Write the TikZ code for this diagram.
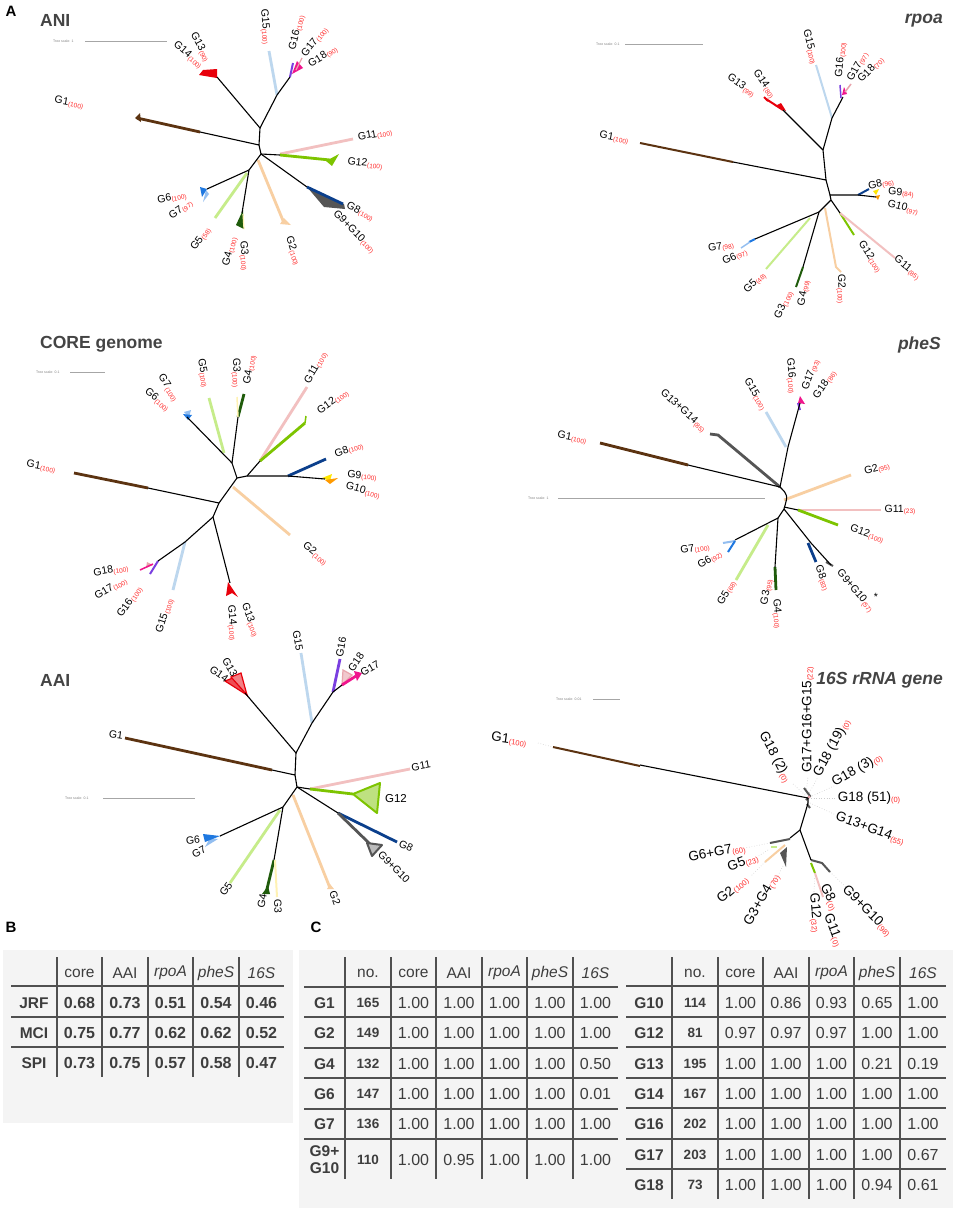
\documentclass[tikz,border=0pt]{standalone}
\usepackage{fontspec}
\setmainfont{Liberation Sans}
\definecolor{c1}{HTML}{5C3311}
\definecolor{c2}{HTML}{F8CFA2}
\definecolor{c3}{HTML}{FFF2B3}
\definecolor{c4}{HTML}{1F5B0B}
\definecolor{c5}{HTML}{C6EC8A}
\definecolor{c6}{HTML}{1F78E0}
\definecolor{c7}{HTML}{93BEF0}
\definecolor{c8}{HTML}{0B3F8C}
\definecolor{c9}{HTML}{555555}
\definecolor{c9y}{HTML}{FFE600}
\definecolor{c10}{HTML}{FF9A00}
\definecolor{c11}{HTML}{F2C0C0}
\definecolor{c12}{HTML}{7DC400}
\definecolor{c13}{HTML}{E8000B}
\definecolor{c15}{HTML}{BDD7EE}
\definecolor{c16}{HTML}{7A3FE0}
\definecolor{c17}{HTML}{F0158C}
\definecolor{c18}{HTML}{E8A4AC}
\definecolor{supred}{HTML}{FF2A2A}
\definecolor{ttlgray}{HTML}{444444}
\definecolor{tbg}{HTML}{F4F4F4}
\definecolor{tline}{HTML}{505050}
\definecolor{ttext}{HTML}{3D3D3D}
\newcommand\sv[1]{\textcolor{supred}{\fontsize{6.5}{6.5}\selectfont\raisebox{-0.35ex}{(#1)}}}
\newcommand\svL[1]{\textcolor{supred}{\fontsize{7.5}{7.5}\selectfont\raisebox{-0.35ex}{(#1)}}}
\tikzset{
 br/.style={line width=1.1pt, black, line join=round},
 clw/.style={line width=2.8pt},
 cmw/.style={line width=2pt},
 tlab/.style={font=\fontsize{10.5}{10.5}\selectfont, inner sep=0pt},
 tlabL/.style={font=\fontsize{13.5}{13.5}\selectfont, inner sep=0pt},
 ttl/.style={font=\fontsize{17.5}{17.5}\selectfont\bfseries, text=ttlgray, inner sep=0pt},
 panel/.style={font=\fontsize{15}{15}\selectfont\bfseries, inner sep=0pt},
 scl/.style={font=\fontsize{3.5}{3.5}\selectfont, text=gray, inner sep=0pt, anchor=west},
 sbar/.style={gray!70, line width=0.6pt},
 dotl/.style={gray!40, line width=0.6pt, dotted},
 hdr/.style={font=\fontsize{15.5}{15.5}\selectfont, text=ttext, inner sep=0pt},
 rlab/.style={font=\fontsize{15.5}{17}\selectfont\bfseries, text=ttext, inner sep=0pt, align=center},
 ncol/.style={font=\fontsize{13.5}{13.5}\selectfont\bfseries, text=ttext, inner sep=0pt},
 vcol/.style={font=\fontsize{16}{16}\selectfont, text=ttext, inner sep=0pt},
 vbold/.style={font=\fontsize{16}{16}\selectfont\bfseries, text=ttext, inner sep=0pt},
 tgrid/.style={tline, line width=1.3pt},
}
\newcommand\rowL[9]{%
 \node[rlab] (#1-l) at (324.5,#2) {#3};
 \node[ncol] (#1-n) at (368,#2) {#4};
 \node[vcol] (#1-a) at (413.5,#2) {#5};
 \node[vcol] (#1-b) at (459,#2) {#6};
 \node[vcol] (#1-c) at (504.5,#2) {#7};
 \node[vcol] (#1-d) at (550,#2) {#8};
 \node[vcol] (#1-e) at (595.5,#2) {#9};
}
\newcommand\rowR[9]{%
 \node[rlab] (#1-l) at (649,#2) {#3};
 \node[ncol] (#1-n) at (695,#2) {#4};
 \node[vcol] (#1-a) at (740.5,#2) {#5};
 \node[vcol] (#1-b) at (786,#2) {#6};
 \node[vcol] (#1-c) at (831.5,#2) {#7};
 \node[vcol] (#1-d) at (877,#2) {#8};
 \node[vcol] (#1-e) at (923,#2) {#9};
}
\begin{document}
\begin{tikzpicture}[x=1pt,y=-1pt]
\useasboundingbox (0,0) rectangle (957,1210);
\fill[white] (0,0) rectangle (957,1210);

% ---------- panel letters and titles
\node[panel] (pA) at (11,11) {A};
\node[panel] (pB) at (11,927) {B};
\node[panel] (pC) at (316,927) {C};
\node[ttl,anchor=west] (tANI) at (40,20) {ANI};
\node[ttl,anchor=east] (tRPO) at (943,21) {\itshape rpoa};
\node[ttl,anchor=west] (tCORE) at (40,344) {CORE genome};
\node[ttl,anchor=east] (tPHE) at (941,345) {\itshape pheS};
\node[ttl,anchor=west] (tAAI) at (40,680) {AAI};
\node[ttl,anchor=east] (t16S) at (943,680) {\itshape 16S rRNA gene};

% ---------- tree scales
\node[scl] (sANI) at (53,41) {Tree scale: 1};
\draw[sbar] (85,41) -- (167,41);
\node[scl] (sRPO) at (596,44) {Tree scale: 0.1};
\draw[sbar] (625,44) -- (703,44);
\node[scl] (sCORE) at (36,372) {Tree scale: 0.1};
\draw[sbar] (70,372) -- (105,372);
\node[scl] (sPHE) at (528,498) {Tree scale: 1};
\draw[sbar] (558,498) -- (765,498);
\node[scl] (sAAI) at (65,798) {Tree scale: 0.1};
\draw[sbar] (103,798) -- (195,798);
\node[scl] (s16S) at (556,699) {Tree scale: 0.01};
\draw[sbar] (593,699) -- (620,699);

% =================== ANI
\draw[clw,c1] (200,132) -- (137,118);
\fill[c1] (135,118) -- (140,113) -- (141,122) -- cycle;
\fill[c13] (217,78) -- (199,75) -- (203,70) -- (217,69) -- cycle;
\draw[clw,c15] (277,95) -- (269,51);
\draw[cmw,c16] (290,77) -- (293,63);
\fill[c17] (292,74) -- (297,61) -- (303,68) -- cycle;
\draw[line width=1.3pt,c18] (296,70) -- (302,58);
\draw[clw,c11] (280,154) -- (353,139);
\draw[clw,c12] (280,155) -- (330,160);
\fill[c12] (326,161) -- (339,154) -- (332,166) -- cycle;
\fill[c9] (307,187) -- (324,207) -- (345,209) -- (344,204) -- cycle;
\draw[clw,c8] (307,187) -- (343,204);
\draw[clw,c2] (258,160) -- (284,223);
\fill[c2] (280,224) -- (291,225) -- (284,218) -- cycle;
\fill[c4] (243,210) -- (236,225) -- (244,229) -- cycle;
\draw[line width=1.2pt,c3] (243,214) -- (244,229);
\draw[clw,c5] (247,173) -- (215,218);
\fill[c7] (206,190) -- (203,202) -- (209,194) -- cycle;
\fill[c6] (207,189) -- (200,187) -- (202,197) -- cycle;
\draw[br] (217,77) -- (260,128) -- (259,145) -- (200,132);
\draw[br] (260,128) -- (277,95) -- (290,77);
\draw[br] (259,145) -- (261,154) -- (280,155);
\draw[br] (261,154) -- (307,187);
\draw[br] (261,154) -- (249,170) -- (242,213);
\draw[br] (249,170) -- (207,189);
\node[tlab,rotate=-62] (aG13) at (200,47) {G13\sv{90}};
\node[tlab,rotate=-41] (aG14) at (188,55) {G14\sv{100}};
\node[tlab,rotate=-10] (aG1) at (69,103) {G1\sv{100}};
\node[tlab,rotate=-85] (aG15) at (265,27) {G15\sv{100}};
\node[tlab,rotate=76] (aG16) at (297,33) {G16\sv{100}};
\node[tlab,rotate=51] (aG17) at (315,42) {G17\sv{100}};
\node[tlab,rotate=32] (aG18) at (323,57) {G18\sv{90}};
\node[tlab,rotate=10] (aG11) at (375,135) {G11\sv{100}};
\node[tlab,rotate=-7] (aG12) at (365,164) {G12\sv{100}};
\node[tlab,rotate=-27] (aG8) at (360,212) {G8\sv{100}};
\node[tlab,rotate=-45] (aG910) at (354,232) {G9+G10\sv{100}};
\node[tlab,rotate=-72] (aG2) at (293,251) {G2\sv{100}};
\node[tlab,rotate=-85] (aG3) at (244,256) {G3\sv{100}};
\node[tlab,rotate=75] (aG4) at (230,252) {G4\sv{100}};
\node[tlab,rotate=54] (aG5) at (201,239) {G5\sv{58}};
\node[tlab,rotate=11] (aG6) at (172,198) {G6\sv{100}};
\node[tlab,rotate=35] (aG7) at (181,210) {G7\sv{97}};

% =================== rpoa
\draw[cmw,c1] (733,162) -- (640,143);
\draw[cmw,c13] (783,110) -- (766,99);
\fill[c13] (786,111) -- (781,103) -- (775,106) -- cycle;
\draw[cmw,c13] (764,97) -- (768,101);
\draw[cmw,c15] (832,118) -- (816,65);
\draw[line width=1.5pt,c16] (840,85) -- (841,98);
\fill[c17] (844,87) -- (847,94) -- (842,95) -- cycle;
\draw[line width=1.5pt,c18] (845,92) -- (851,84);
\draw[cmw,c8] (858,195) -- (869,189);
\fill[c9y] (873,191) -- (879,189) -- (876,195) -- cycle;
\fill[c10] (875,196) -- (880,195) -- (878,200) -- cycle;
\draw[cmw,c12] (840,213) -- (854,235);
\draw[cmw,c11] (840,213) -- (895,258);
\draw[cmw,c2] (825,208) -- (836,267) -- (841,272);
\draw[cmw,c4] (803,267) -- (796,287);
\draw[cmw,c5] (810,218) -- (766,269);
\draw[cmw,c6] (755,239) -- (749,242);
\draw[line width=1.5pt,c7] (750,242) -- (741,248);
\draw[br] (783,110) -- (823,150) -- (826,180) -- (733,162);
\draw[br] (823,150) -- (832,118) -- (843,97);
\draw[br] (826,180) -- (830,195) -- (858,195) -- (876,197);
\draw[br] (830,195) -- (831,200) -- (840,213);
\draw[br] (831,200) -- (819,212) -- (803,267);
\draw[br] (819,212) -- (755,239);
\node[tlab,rotate=-10] (rG1) at (614,138) {G1\sv{100}};
\node[tlab,rotate=-35] (rG13) at (741,86) {G13\sv{99}};
\node[tlab,rotate=-56] (rG14) at (764,84) {G14\sv{80}};
\node[tlab,rotate=-76] (rG15) at (810,47) {G15\sv{100}};
\node[tlab,rotate=85] (rG16) at (841,60) {G16\sv{100}};
\node[tlab,rotate=61] (rG17) at (858,67) {G17\sv{97}};
\node[tlab,rotate=45] (rG18) at (871,70) {G18\sv{70}};
\node[tlab,rotate=12] (rG8) at (881,184) {G8\sv{96}};
\node[tlab,rotate=-3] (rG9) at (901,193) {G9\sv{84}};
\node[tlab,rotate=-15] (rG10) at (903,208) {G10\sv{97}};
\node[tlab,rotate=-57] (rG12) at (870,257) {G12\sv{100}};
\node[tlab,rotate=-40] (rG11) at (907,268) {G11\sv{85}};
\node[tlab,rotate=-88] (rG2) at (841,289) {G2\sv{100}};
\node[tlab,rotate=64] (rG3) at (784,305) {G3\sv{100}};
\node[tlab,rotate=80] (rG4) at (804,293) {G4\sv{99}};
\node[tlab,rotate=45] (rG5) at (755,283) {G5\sv{48}};
\node[tlab,rotate=10] (rG7) at (721,247) {G7\sv{98}};
\node[tlab,rotate=25] (rG6) at (735,257) {G6\sv{97}};

% =================== CORE genome
\draw[clw,c1] (148,488) -- (74,473);
\fill[c7] (184,412) -- (191,410) -- (189,417) -- cycle;
\fill[c6] (183,414) -- (192,415) -- (188,420) -- cycle;
\draw[clw,c5] (224,453) -- (209,398);
\draw[clw,c4] (238,417) -- (244,394);
\draw[line width=1.5pt,c3] (237,397) -- (238,417);
\draw[clw,c11] (260,461) -- (307,387);
\draw[clw,c12] (260,461) -- (305,423);
\draw[line width=1.5pt,c12] (305,423) -- (306,416);
\draw[clw,c8] (288,476) -- (326,459);
\fill[c9y] (322,478) -- (332,474) -- (330,481) -- cycle;
\fill[c10] (325,480) -- (338,478) -- (330,484) -- cycle;
\draw[clw,c2] (233,487) -- (290,535);
\fill[c13] (228,582) -- (238,597) -- (232,593) -- (226,596) -- cycle;
\draw[clw,c15] (185,542) -- (173,590);
\draw[cmw,c16] (158,561) -- (150,574);
\fill[c18] (147,562) -- (153,565) -- (146,568) -- cycle;
\draw[line width=1.5pt,c17] (153,564) -- (140,570);
\draw[br] (232,463) -- (237,478) -- (219,503) -- (213,517);
\draw[br] (219,503) -- (148,488);
\draw[br] (237,478) -- (247,476) -- (260,461);
\draw[br] (247,476) -- (288,476) -- (325,479);
\draw[br] (232,463) -- (187,417);
\draw[br] (232,463) -- (238,417);
\draw[br] (213,517) -- (230,583);
\draw[br] (213,517) -- (185,542) -- (158,561);
\node[tlab,rotate=-58] (cG7) at (168,388) {G7\sv{100}};
\node[tlab,rotate=-40] (cG6) at (157,400) {G6\sv{100}};
\node[tlab,rotate=-80] (cG5) at (203,373) {G5\sv{100}};
\node[tlab,rotate=-88] (cG3) at (236,373) {G3\sv{100}};
\node[tlab,rotate=80] (cG4) at (250,370) {G4\sv{100}};
\node[tlab,rotate=60] (cG11) at (316,368) {G11\sv{100}};
\node[tlab,rotate=35] (cG12) at (333,402) {G12\sv{100}};
\node[tlab,rotate=20] (cG8) at (349,450) {G8\sv{100}};
\node[tlab,rotate=-3] (cG9) at (362,476) {G9\sv{100}};
\node[tlab,rotate=-15] (cG10) at (363,491) {G10\sv{100}};
\node[tlab,rotate=-40] (cG2) at (315,554) {G2\sv{100}};
\node[tlab,rotate=10] (cG18) at (111,571) {G18\sv{100}};
\node[tlab,rotate=30] (cG17) at (111,589) {G17\sv{100}};
\node[tlab,rotate=55] (cG16) at (130,602) {G16\sv{100}};
\node[tlab,rotate=72] (cG15) at (165,616) {G15\sv{100}};
\node[tlab,rotate=-70] (cG13) at (250,620) {G13\sv{100}};
\node[tlab,rotate=-85] (cG14) at (232,623) {G14\sv{100}};
\node[tlab,rotate=-10] (cG1) at (41,467) {G1\sv{100}};

% =================== pheS
\draw[clw,c9] (780,487) -- (718,435) -- (710,434);
\draw[clw,c1] (688,465) -- (600,443);
\draw[clw,c15] (786,447) -- (766,412);
\draw[cmw,c16] (798,403) -- (800,410);
\fill[c17] (800,396) -- (805,404) -- (798,403) -- cycle;
\draw[clw,c2] (784,500) -- (851,475);
\draw[clw,c11] (798,510) -- (881,510);
\draw[clw,c12] (798,510) -- (838,525);
\draw[clw,c8] (808,543) -- (816,562);
\draw[cmw,c9] (826,562) -- (833,566);
\draw[clw,c4] (775,567) -- (776,590);
\draw[clw,c5] (768,525) -- (736,580);
\draw[cmw,c7] (723,543) -- (735,541);
\draw[cmw,c6] (735,541) -- (728,552);
\draw[br] (780,487) -- (688,465);
\draw[br] (780,487) -- (788,447) -- (800,403);
\draw[br] (780,487) .. controls (788,495) .. (784,509);
\draw[br] (784,507) -- (798,510);
\draw[br] (784,509) -- (811,543) -- (831,565);
\draw[br] (784,509) -- (778,518) -- (775,567);
\draw[br] (778,518) -- (735,540);
\node[tlab,rotate=-85] (pG16) at (791,376) {G16\sv{100}};
\node[tlab,rotate=70] (pG17) at (811,375) {G17\sv{93}};
\node[tlab,rotate=55] (pG18) at (825,385) {G18\sv{86}};
\node[tlab,rotate=-60] (pG15) at (755,394) {G15\sv{100}};
\node[tlab,rotate=-42] (pG1314) at (683,411) {G13+G14\sv{85}};
\node[tlab,rotate=-10] (pG1) at (572,438) {G1\sv{100}};
\node[tlab,rotate=15] (pG2) at (877,469) {G2\sv{95}};
\node[tlab] (pG11) at (900,510) {G11\sv{23}};
\node[tlab,rotate=-20] (pG12) at (867,534) {G12\sv{100}};
\node[tlab,rotate=-50] (pG910) at (855,591) {G9+G10\sv{57}};
\node[tlab] (pAst) at (876,597) {*};
\node[tlab,rotate=-70] (pG8) at (822,578) {G8\sv{83}};
\node[tlab,rotate=-85] (pG4) at (777,614) {G4\sv{100}};
\node[tlab,rotate=80] (pG3) at (767,592) {G3\sv{95}};
\node[tlab,rotate=60] (pG5) at (727,593) {G5\sv{68}};
\node[tlab,rotate=30] (pG6) at (710,560) {G6\sv{92}};
\node[tlab,rotate=10] (pG7) at (695,549) {G7\sv{100}};

% =================== AAI
\draw[clw,c1] (125,738) -- (272,770);
\filldraw[c13, fill=c13!70, line width=1.2pt] (247,695) -- (225,681) -- (238,676) -- cycle;
\filldraw[c13, fill=c13!50, line width=1.2pt] (247,695) -- (231,677) -- (241,673) -- cycle;
\draw[clw,c15] (312,723) -- (301,653);
\draw[clw,c16] (333,692) -- (340,659);
\filldraw[c18, fill=c18!60, line width=1.2pt] (342,685) -- (343,670) -- (352,675) -- cycle;
\draw[clw,c17] (342,685) -- (356,676);
\fill[c17] (354,671) -- (362,673) -- (357,681) -- cycle;
\draw[clw,c11] (310,789) -- (410,769);
\draw[clw,c12] (310,789) -- (353,794);
\filldraw[c12, fill=c12!50, line width=2pt, line join=round] (353,794) -- (380,783) -- (377,813) -- cycle;
\draw[clw,c8] (338,813) -- (397,842);
\draw[clw,c9] (338,813) -- (370,844);
\filldraw[c9, fill=c9!40, line width=2pt, line join=round] (367,843) -- (382,845) -- (372,856) -- cycle;
\draw[clw,c2] (293,795) -- (330,888);
\fill[c2] (327,889) -- (334,889) -- (330,884) -- cycle;
\draw[clw,c4] (274,860) -- (266,893);
\fill[c4] (262,894) -- (270,894) -- (268,886) -- cycle;
\draw[cmw,c3] (275,860) -- (277,897);
\draw[clw,c5] (280,810) -- (230,883);
\fill[c7] (218,839) -- (205,847) -- (210,838) -- cycle;
\fill[c6] (220,836) -- (203,834) -- (205,842) -- cycle;
\draw[br] (245,693) -- (296,753) -- (312,723) -- (333,692);
\draw[br] (296,753) -- (295,775) -- (272,770);
\draw[br] (295,775) -- (297,787) -- (310,789);
\draw[br] (297,787) -- (338,813);
\draw[br] (297,787) -- (283,807) -- (274,860);
\draw[br] (283,807) -- (220,836);
\draw[br] (333,692) -- (342,685);
\node[tlab,rotate=-80] (iG15) at (298,641) {G15};
\node[tlab,rotate=80] (iG16) at (341,647) {G16};
\node[tlab,rotate=55] (iG18) at (356,662) {G18};
\node[tlab,rotate=30] (iG17) at (370,668) {G17};
\node[tlab,rotate=-60] (iG13) at (230,667) {G13};
\node[tlab,rotate=-35] (iG14) at (219,674) {G14};
\node[tlab,rotate=-8] (iG1) at (116,735) {G1};
\node[tlab,rotate=10] (iG11) at (421,766) {G11};
\node[tlab,font=\fontsize{11.5}{11.5}\selectfont] (iG12) at (396,799) {G12};
\node[tlab,rotate=-25] (iG8) at (406,846) {G8};
\node[tlab,rotate=-45] (iG910) at (394,867) {G9+G10};
\node[tlab,rotate=-70] (iG2) at (335,898) {G2};
\node[tlab,rotate=80] (iG4) at (262,901) {G4};
\node[tlab,rotate=-88] (iG3) at (278,906) {G3};
\node[tlab,rotate=55] (iG5) at (226,889) {G5};
\node[tlab,rotate=5] (iG6) at (193,840) {G6};
\node[tlab,rotate=30] (iG7) at (199,852) {G7};

% =================== 16S
\draw[dotl] (538,743) -- (553,747);
\draw[cmw,c1] (553,747) -- (640,766);
\draw[dotl] (806,794) -- (808,776);
\draw[dotl] (805,795) -- (792,783);
\draw[dotl] (808,795) -- (818,777);
\draw[dotl] (810,797) -- (834,786);
\draw[dotl] (811,798) -- (836,798);
\draw[dotl] (810,803) -- (836,815);
\draw[dotl] (770,843) -- (745,848);
\draw[dotl] (768,850) -- (757,857);
\draw[dotl] (765,862) -- (751,876);
\draw[dotl] (783,866) -- (775,881);
\draw[dotl] (815,873) -- (814,892);
\draw[dotl] (830,872) -- (847,888);
\draw[cmw,c9] (804,788) -- (810,796) -- (806,800);
\fill[c18] (809,797) circle (1.6);
\draw[cmw,c9] (807,804) -- (810,808);
\draw[cmw,c9] (770,843) -- (790,839);
\draw[cmw,c5] (771,847) -- (777,847);
\draw[cmw,c2] (765,862) -- (785,845);
\fill[c9] (780,853) -- (786,867) -- (787,847) -- cycle;
\draw[cmw,c9] (811,860) -- (822,863) -- (830,872);
\draw[cmw,c12] (811,863) -- (815,873);
\draw[cmw,c11] (815,873) -- (823,897);
\draw[br] (640,765) -- (808,798);
\draw[br] (808,798) -- (808,803) -- (806,810) -- (800,830) -- (790,838);
\draw[br] (800,830) -- (811,860);
\node[tlabL,rotate=90] (sG171615) at (808,720) {G17+G16+G15\svL{22}};
\node[tlabL,rotate=-62] (sG182) at (775,757) {G18 (2)\svL{0}};
\node[tlabL,rotate=62] (sG1819) at (832,748) {G18 (19)\svL{0}};
\node[tlabL,rotate=30] (sG183) at (857,770) {G18 (3)\svL{0}};
\node[tlabL] (sG1851) at (869,798) {G18 (51)\svL{0}};
\node[tlabL,rotate=-20] (sG1314) at (870,829) {G13+G14\svL{55}};
\node[tlabL,rotate=10] (sG67) at (717,853) {G6+G7\svL{60}};
\node[tlabL,rotate=20] (sG5) at (743,863) {G5\svL{23}};
\node[tlabL,rotate=40] (sG2) at (733,890) {G2\svL{100}};
\node[tlabL,rotate=60] (sG34) at (762,900) {G3+G4\svL{70}};
\node[tlabL,rotate=-65] (sG8) at (829,897) {G8\svL{0}};
\node[tlabL,rotate=-85] (sG12) at (815,913) {G12\svL{32}};
\node[tlabL,rotate=-70] (sG11) at (833,930) {G11\svL{0}};
\node[tlabL,rotate=-45] (sG910) at (867,911) {G9+G10\svL{98}};
\node[tlabL,rotate=-8] (sG1) at (509,740) {G1\svL{100}};

% =================== Table B
\fill[tbg] (3,950) rectangle (293,1123);
\foreach \x in {57,102,148,193,239} \draw[tgrid] (\x,957) -- (\x,1077);
\foreach \y in {986,1017,1047} \draw[tgrid] (11,\y) -- (284,\y);
\node[hdr] (bh1) at (79.5,973) {core};
\node[hdr] (bh2) at (125,973) {AAI};
\node[hdr] (bh3) at (170.5,973) {\itshape rpoA};
\node[hdr] (bh4) at (216,973) {\itshape pheS};
\node[hdr] (bh5) at (261.5,973) {\itshape 16S};
\foreach \lab/\a/\b/\c/\d/\e [count=\i] in {JRF/0.68/0.73/0.51/0.54/0.46, MCI/0.75/0.77/0.62/0.62/0.52, SPI/0.73/0.75/0.57/0.58/0.47} {
 \node[rlab] (b\i-l) at (34,973+30*\i) {\lab};
 \node[vbold] (b\i-a) at (79.5,973+30*\i) {\a};
 \node[vbold] (b\i-b) at (125,973+30*\i) {\b};
 \node[vbold] (b\i-c) at (170.5,973+30*\i) {\c};
 \node[vbold] (b\i-d) at (216,973+30*\i) {\d};
 \node[vbold] (b\i-e) at (261.5,973+30*\i) {\e};
}

% =================== Table C
\fill[tbg] (299,950) rectangle (953,1208);
\foreach \x in {345,391,436,482,527,573} \draw[tgrid] (\x,957) -- (\x,1179);
\foreach \y in {987,1017,1048,1078,1109,1139} \draw[tgrid] (304,\y) -- (618,\y);
\foreach \x in {672,718,763,809,854,900} \draw[tgrid] (\x,957) -- (\x,1199);
\foreach \y in {986,1017,1047,1078,1108,1139,1169} \draw[tgrid] (626,\y) -- (946,\y);
\node[hdr] (lh1) at (368,973) {no.};
\node[hdr] (lh2) at (413.5,973) {core};
\node[hdr] (lh3) at (459,973) {AAI};
\node[hdr] (lh4) at (504.5,973) {\itshape rpoA};
\node[hdr] (lh5) at (550,973) {\itshape pheS};
\node[hdr] (lh6) at (595.5,973) {\itshape 16S};
\node[hdr] (rh1) at (695,973) {no.};
\node[hdr] (rh2) at (740.5,973) {core};
\node[hdr] (rh3) at (786,973) {AAI};
\node[hdr] (rh4) at (831.5,973) {\itshape rpoA};
\node[hdr] (rh5) at (877,973) {\itshape pheS};
\node[hdr] (rh6) at (923,973) {\itshape 16S};
\rowL{L1}{1003}{G1}{165}{1.00}{1.00}{1.00}{1.00}{1.00}
\rowL{L2}{1033}{G2}{149}{1.00}{1.00}{1.00}{1.00}{1.00}
\rowL{L3}{1064}{G4}{132}{1.00}{1.00}{1.00}{1.00}{0.50}
\rowL{L4}{1094}{G6}{147}{1.00}{1.00}{1.00}{1.00}{0.01}
\rowL{L5}{1124}{G7}{136}{1.00}{1.00}{1.00}{1.00}{1.00}
\rowL{L6}{1160}{G9+\\G10}{110}{1.00}{0.95}{1.00}{1.00}{1.00}
\rowR{R1}{1003}{G10}{114}{1.00}{0.86}{0.93}{0.65}{1.00}
\rowR{R2}{1033}{G12}{81}{0.97}{0.97}{0.97}{1.00}{1.00}
\rowR{R3}{1064}{G13}{195}{1.00}{1.00}{1.00}{0.21}{0.19}
\rowR{R4}{1094}{G14}{167}{1.00}{1.00}{1.00}{1.00}{1.00}
\rowR{R5}{1124}{G16}{202}{1.00}{1.00}{1.00}{1.00}{1.00}
\rowR{R6}{1155}{G17}{203}{1.00}{1.00}{1.00}{1.00}{0.67}
\rowR{R7}{1185}{G18}{73}{1.00}{1.00}{1.00}{0.94}{0.61}
\end{tikzpicture}
\end{document}
